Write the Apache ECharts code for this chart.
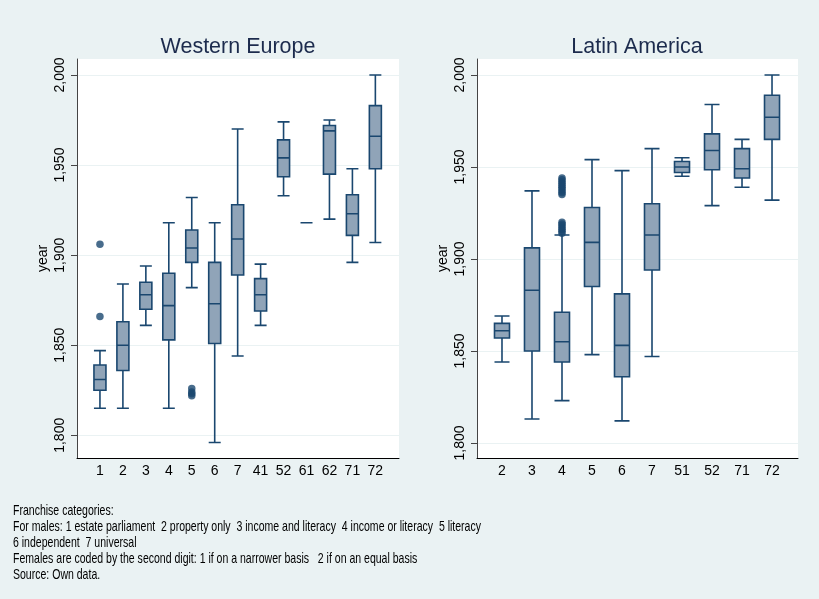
<!DOCTYPE html>
<html>
<head>
<meta charset="utf-8">
<script src="https://cdn.jsdelivr.net/npm/echarts@6/dist/echarts.min.js"></script>
<style>
html,body{margin:0;padding:0;background:#eaf2f3;}
#main{width:819px;height:599px;}
</style>
</head>
<body>
<div id="main"></div>
<script>
// Western Europe
var weCats = ['1','2','3','4','5','6','7','41','52','61','62','71','72'];
var weMin  = [1815,1815,1861,1815,1882,1796,1844,1861,1933,1918,1920,1896,1907];
var weQ1   = [1825,1836,1870,1853,1896,1851,1889,1869,1943.5,1918,1945,1911,1948];
var weMed  = [1831,1850,1878,1872,1904,1873,1909,1878,1954,1918,1969,1923,1966];
var weQ3   = [1839,1863,1885,1890,1914,1896,1928,1887,1964,1918,1972,1933.5,1983];
var weMax  = [1847,1884,1894,1918,1932,1918,1970,1895,1974,1918,1975,1948,2000];
var weOutCat = ['1','1','5','5','5','5'];
var weOutVal = [1906,1866,1822,1823,1824,1826];

// Latin America
var laCats = ['2','3','4','5','6','7','51','52','71','72'];
var laMin  = [1844,1813,1823,1848,1812,1847,1945,1929,1939,1932];
var laQ1   = [1857,1850,1844,1885,1836,1894,1947,1948.5,1944,1965];
var laMed  = [1861,1883,1855,1909,1853,1913,1950,1959,1949,1977];
var laQ3   = [1865,1906,1871,1928,1881,1930,1953,1968,1960,1989];
var laMax  = [1869,1937,1913,1954,1948,1960,1955,1984,1965,2000];
var laOutCat = ['4','4','4','4','4','4','4','4','4','4','4','4','4','4','4','4','4'];
var laOutVal = [1914,1915,1916,1917,1918,1919,1920,1935,1936,1937,1938,1939,1940,1941,1942,1943,1944];

var yTicks = [1800,1850,1900,1950,2000];
var panelTitles = ['Western Europe','Latin America'];
var yName = 'year';
var notes = [
  'Franchise categories:',
  'For males: 1 estate parliament  2 property only  3 income and literacy  4 income or literacy  5 literacy',
  '6 independent  7 universal',
  'Females are coded by the second digit: 1 if on a narrower basis   2 if on an equal basis',
  'Source: Own data.'
];

function boxData(cats, mn, q1, md, q3, mx) {
  return cats.map(function (c, i) { return [i + 1, mn[i], q1[i], md[i], q3[i], mx[i]]; });
}
function outData(cats, outCat, outVal) {
  return outCat.map(function (c, i) { return [cats.indexOf(c) + 1, outVal[i]]; });
}
function fmtYear(v) { return String(v).replace(/\B(?=(\d{3})+(?!\d))/g, ','); }

var NAVY = '#1a476f';
var FONT = 'Liberation Sans, Arial, sans-serif';
var NOTE_FONT = '15px "Liberation Sans", Arial, sans-serif';

// condense the notes text horizontally to the reference's narrow face
var mctx = document.createElement('canvas').getContext('2d');
mctx.font = NOTE_FONT;
var noteW = mctx.measureText(notes[1]).width;
var noteScale = 468 / noteW;

function xAxisFor(idx, cats, mn, mx) {
  return {
    type: 'value', gridIndex: idx, min: mn, max: mx,
    axisLine: { show: true, onZero: false, lineStyle: { color: '#000', width: 1 } },
    axisTick: { show: false },
    splitLine: { show: false },
    axisLabel: {
      customValues: cats.map(function (c, i) { return i + 1; }),
      formatter: function (v) { return cats[Math.round(v) - 1] || ''; },
      color: '#000', fontSize: 14, fontFamily: FONT, margin: 6
    }
  };
}
function yAxisFor(idx, mn, mx) {
  return {
    type: 'value', gridIndex: idx, min: mn, max: mx,
    name: yName, nameLocation: 'middle', nameRotate: 90, nameGap: 27,
    nameTextStyle: { color: '#000', fontSize: 14, fontFamily: FONT },
    axisLine: { show: true, onZero: false, lineStyle: { color: '#444', width: 1 } },
    axisTick: { show: true, length: 6, customValues: yTicks, lineStyle: { color: '#444' } },
    splitLine: { show: true, lineStyle: { color: '#eaf2f3', width: 1 } },
    axisLabel: {
      customValues: yTicks, rotate: 90, formatter: fmtYear,
      color: '#000', fontSize: 14, fontFamily: FONT, margin: 10
    }
  };
}

var chart = echarts.init(document.getElementById('main'), null, { renderer: 'canvas' });
var option = {
  backgroundColor: '#eaf2f3',
  animation: false,
  title: [
    { text: panelTitles[0], left: 233, top: 31, textAlign: 'center',
      textStyle: { color: '#1c2b4d', fontSize: 21.5, fontWeight: 'normal', fontFamily: FONT } },
    { text: panelTitles[1], left: 632, top: 31, textAlign: 'center',
      textStyle: { color: '#1c2b4d', fontSize: 21.5, fontWeight: 'normal', fontFamily: FONT } }
  ],
  grid: [
    { left: 77, top: 59, width: 322, height: 399, show: true, backgroundColor: '#fff', borderWidth: 0 },
    { left: 477, top: 59, width: 321, height: 399, show: true, backgroundColor: '#fff', borderWidth: 0 }
  ],
  xAxis: [ xAxisFor(0, weCats, 0, 14.03), xAxisFor(1, laCats, 0.167, 10.866) ],
  yAxis: [ yAxisFor(0, 1787.4, 2008.9), yAxisFor(1, 1791.8, 2008.7) ],
  series: [
    { type: 'boxplot', xAxisIndex: 0, yAxisIndex: 0, boxWidth: [12, 12],
      itemStyle: { color: '#90a4b8', borderColor: NAVY, borderWidth: 1.6 },
      data: boxData(weCats, weMin, weQ1, weMed, weQ3, weMax) },
    { type: 'scatter', xAxisIndex: 0, yAxisIndex: 0, symbol: 'circle', symbolSize: 7.5,
      itemStyle: { color: NAVY }, data: outData(weCats, weOutCat, weOutVal) },
    { type: 'boxplot', xAxisIndex: 1, yAxisIndex: 1, boxWidth: [15, 15],
      itemStyle: { color: '#90a4b8', borderColor: NAVY, borderWidth: 1.6 },
      data: boxData(laCats, laMin, laQ1, laMed, laQ3, laMax) },
    { type: 'scatter', xAxisIndex: 1, yAxisIndex: 1, symbol: 'circle', symbolSize: 7.5,
      itemStyle: { color: NAVY }, data: outData(laCats, laOutCat, laOutVal) }
  ],
  graphic: [
    { type: 'text', x: 13, y: 503, scaleX: noteScale, scaleY: 1,
      style: { text: notes.join('\n'), fill: '#000', font: NOTE_FONT, lineHeight: 16 } }
  ]
};
chart.setOption(option);
</script>
</body>
</html>
